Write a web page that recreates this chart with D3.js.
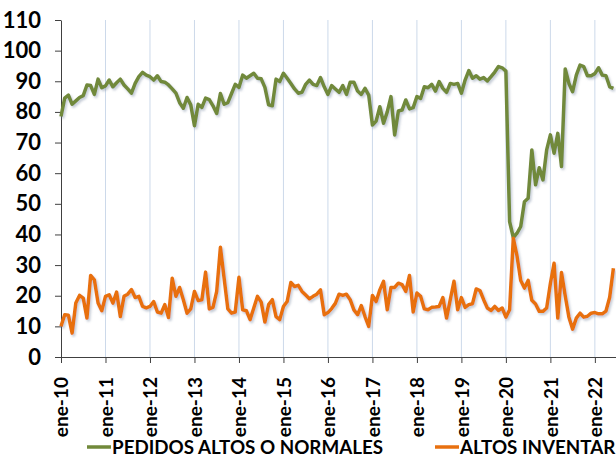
<!DOCTYPE html>
<html>
<head>
<meta charset="utf-8">
<script src="https://cdn.jsdelivr.net/npm/d3@7"></script>
<style>
  body { margin: 0; overflow: hidden; background: #fff; }
  text { font-family: Lato, "Open Sans", sans-serif; font-weight: 700; fill: #000; }
</style>
</head>
<body>
<svg id="chart" width="616" height="458"></svg>
<script>
// monthly values, ene-10 .. jun-22
let pedidos = [
  78.5, 84.5, 85.5, 82.5, 83.6, 84.7, 85.3, 88.8, 88.6, 85.7, 90.7, 87.9,
  88.5, 90.4, 88.2, 89.5, 90.7, 88.8, 87.5, 86.1, 89.3, 91.5, 92.9, 92,
  91.5, 90.4, 91.8, 89.9, 89.7, 88.8, 87.5, 86.1, 83, 81.2, 84.7, 82.3,
  75.5, 82.5, 81.5, 84.5, 84, 82, 79.5, 86, 82.5, 83, 86, 89,
  88, 92, 91, 91.8, 92.6, 91, 90.8, 88, 82.3, 82, 90.7, 89.9,
  92.6, 91, 89.3, 87.5, 86.1, 86.4, 89, 90.4, 89, 88.6, 91.2, 88.2,
  85.7, 88.6, 87.5, 86.4, 88.6, 85.7, 89.7, 89.7, 86.8, 85.7, 87.7, 85.5,
  75.7, 77, 81.7, 76.3, 80, 85, 72.5, 80.3, 80.6, 83.9, 81, 81.4,
  85, 84.4, 88.2, 87.9, 89, 86.8, 89.9, 87.7, 86.4, 89.3, 89, 89.3,
  86.1, 90.4, 93.5, 91, 91.8, 90.7, 91.2, 90.1, 91.5, 93, 94.8, 94.4,
  93.3, 44.2, 39, 40.4, 42.6, 50.7, 51.8, 67.6, 56.2, 61.8, 57.8, 67.6,
  72.5, 66.5, 73, 62.2, 94, 89.3, 86.6, 92, 95.3, 94.8, 91.8, 91.8,
  92.5, 94.4, 92, 91.8, 88.2, 87.7
];

let inventarios = [
  10, 13.8, 13.6, 7.8, 17.6, 20.1, 19.2, 12.7, 26.6, 25.2, 17.6, 15.1,
  19.8, 20.3, 17.6, 21.2, 13.2, 19.8, 20.5, 22, 19.4, 19.8, 16.5, 16,
  16.5, 18.1, 14.7, 14.3, 17.1, 12.9, 25.7, 19.8, 22.7, 18.7, 14.3, 15.7,
  21.4, 18.4, 18.7, 27.7, 15.7, 16.2, 21.4, 35.8, 25.7, 15.7, 14.3, 14.7,
  26, 15.4, 15.1, 12.2, 16, 19.8, 17.9, 11.4, 17.1, 18.7, 13.2, 12.2,
  16.5, 18.1, 24.3, 23, 23.4, 21.4, 20.2, 19, 19.8, 20.5, 21.9, 13.8,
  14.5, 15.8, 17.5, 20.5, 20.1, 20.5, 18.7, 15.4, 13.8, 16.8, 13.2, 10,
  20.1, 18.1, 21.9, 24.7, 15.4, 22.7, 22.7, 24.1, 23.6, 21.4, 26.6, 14.7,
  20.9, 19.8, 15.7, 15.4, 16.2, 16.3, 16.5, 19.4, 12.7, 18.7, 24.7, 15.4,
  19.4, 16.2, 17.1, 17.4, 22.2, 21.7, 18.7, 16, 15.2, 16.5, 15.2, 16,
  13, 15.4, 38.8, 33, 25, 22.5, 25, 18.5, 17.3, 14.9, 14.9, 16,
  24, 30.6, 12.7, 27.6, 20, 13, 9.1, 12.7, 14.3, 13, 13.3, 14.3,
  14.5, 14.1, 14.1, 15, 19.5, 29
];

let xTicks = [0, 12, 24, 36, 48, 60, 72, 84, 96, 108, 120, 132, 144];
let xLabels = ['ene-10', 'ene-11', 'ene-12', 'ene-13', 'ene-14', 'ene-15', 'ene-16',
  'ene-17', 'ene-18', 'ene-19', 'ene-20', 'ene-21', 'ene-22'];
let yTicks = [0, 10, 20, 30, 40, 50, 60, 70, 80, 90, 100, 110];

let series = [
  { name: 'PEDIDOS ALTOS O NORMALES', values: pedidos, color: '#71893a' },
  { name: 'ALTOS INVENTARIOS', values: inventarios, color: '#e8700f' }
];

let svg = d3.select('#chart');

let x = d3.scaleLinear().domain([0, 149.7]).range([61, 616]);
let y = d3.scaleLinear().domain([0, 110]).range([357, 20]);

// soft shadow under the lines
let defs = svg.append('defs');
defs.append('filter')
  .attr('id', 'shadow')
  .attr('x', '-5%').attr('y', '-5%').attr('width', '110%').attr('height', '110%')
  .append('feDropShadow')
  .attr('dx', 1.5).attr('dy', 2).attr('stdDeviation', 1)
  .attr('flood-color', '#7d8ca3').attr('flood-opacity', 0.45);

// vertical gridlines at each year
svg.append('g')
  .selectAll('line')
  .data(xTicks.slice(1))
  .enter()
  .append('line')
  .attr('x1', d => x(d)).attr('x2', d => x(d))
  .attr('y1', y(0)).attr('y2', y(110))
  .attr('stroke', '#ccd9ea')
  .attr('stroke-width', 1);

// y axis
let yAxis = svg.append('g')
  .attr('transform', 'translate(' + x(0) + ',0)')
  .call(d3.axisLeft(y).tickValues(yTicks).tickSize(6).tickPadding(14).tickSizeOuter(0));
yAxis.selectAll('text').style('font-size', '22px');
yAxis.selectAll('path, line').attr('stroke', '#404040');

// x axis
let xAxis = svg.append('g')
  .attr('transform', 'translate(0,' + y(0) + ')')
  .call(d3.axisBottom(x).tickValues(xTicks).tickSize(6).tickSizeOuter(0)
    .tickFormat((d, i) => xLabels[i]));
xAxis.selectAll('path, line').attr('stroke', '#404040');
xAxis.selectAll('text')
  .style('font-size', '19px')
  .attr('transform', 'rotate(-90)')
  .attr('text-anchor', 'end')
  .attr('x', -20)
  .attr('y', 0)
  .attr('dy', '0.36em');

// lines
let line = d3.line()
  .x((d, i) => x(i))
  .y(d => y(d));

svg.append('g')
  .selectAll('path')
  .data(series)
  .enter()
  .append('path')
  .attr('d', d => line(d.values))
  .attr('fill', 'none')
  .attr('stroke', d => d.color)
  .attr('stroke-width', 3.5)
  .attr('stroke-linejoin', 'round')
  .attr('filter', 'url(#shadow)');

// legend
let legendX = [87, 435];
let lg = svg.append('g')
  .selectAll('g')
  .data(series)
  .enter()
  .append('g')
  .attr('transform', (d, i) => 'translate(' + legendX[i] + ',447)');
lg.append('line')
  .attr('x1', 0).attr('x2', 24)
  .attr('stroke', d => d.color)
  .attr('stroke-width', 3.5);
lg.append('text')
  .attr('x', 25)
  .attr('dy', '0.36em')
  .style('font-size', '18.8px')
  .text(d => d.name);
</script>
</body>
</html>
